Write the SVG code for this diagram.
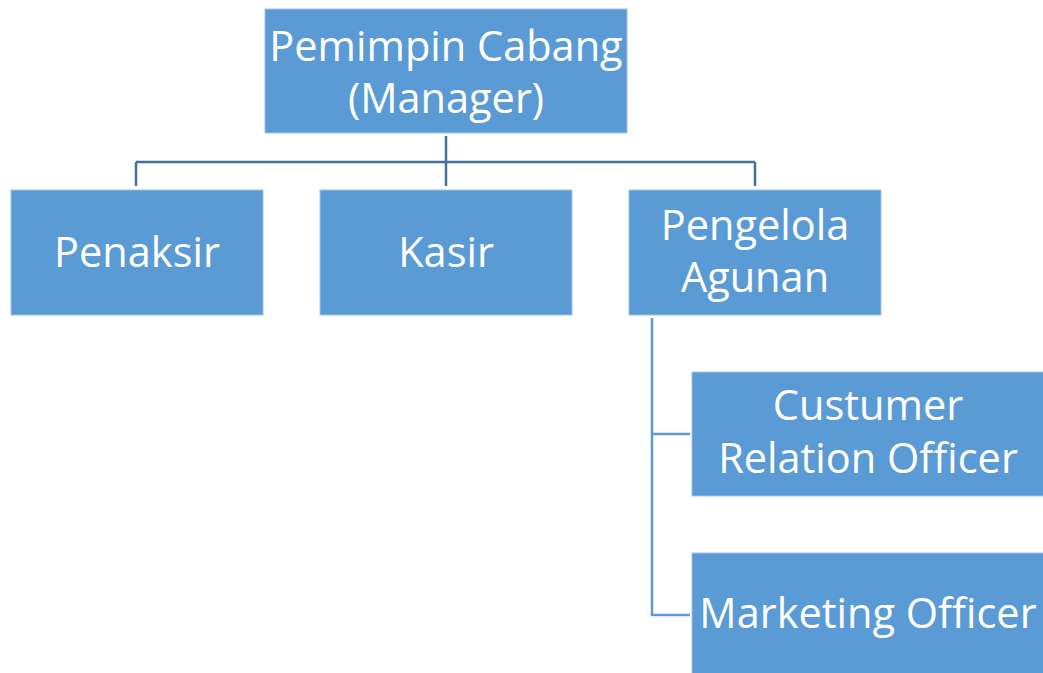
<svg xmlns="http://www.w3.org/2000/svg" width="1043" height="673" viewBox="0 0 1043 673">
<style>
.box{fill:#5B9BD5;stroke:#9DC3E6;stroke-width:1}
.t{font-family:"Open Sans","Noto Sans",sans-serif;font-size:41.5px;fill:#FFFFFF;text-anchor:middle}
.c{fill:none;stroke:#41719C;stroke-width:2.5}
.c2{fill:none;stroke:#5B9BD5;stroke-width:2.5}
</style>
<rect width="1043" height="673" fill="#FFFFFF"/>
<g id="connectors">
<path class="c" d="M446 136V186M136 162H755M136 162V186M755 162V186"/>
<path class="c2" d="M652 318V615H690M652 434H690"/>
</g>
<g id="manager">
<rect class="box" x="265" y="9" width="362" height="124"/>
<text class="t" x="446" y="61">Pemimpin Cabang</text>
<text class="t" x="446" y="113">(Manager)</text>
</g>
<g id="penaksir">
<rect class="box" x="11" y="190" width="252" height="125"/>
<text class="t" x="137" y="267">Penaksir</text>
</g>
<g id="kasir">
<rect class="box" x="320" y="190" width="252" height="125"/>
<text class="t" x="446" y="267">Kasir</text>
</g>
<g id="pengelola">
<rect class="box" x="629" y="190" width="252" height="125"/>
<text class="t" x="755" y="240">Pengelola</text>
<text class="t" x="755" y="292">Agunan</text>
</g>
<g id="cro">
<rect class="box" x="692" y="372" width="352" height="124"/>
<text class="t" x="868" y="420">Custumer</text>
<text class="t" x="868" y="473">Relation Officer</text>
</g>
<g id="marketing">
<rect class="box" x="692" y="553" width="352" height="125"/>
<text class="t" x="868" y="628">Marketing Officer</text>
</g>
</svg>
